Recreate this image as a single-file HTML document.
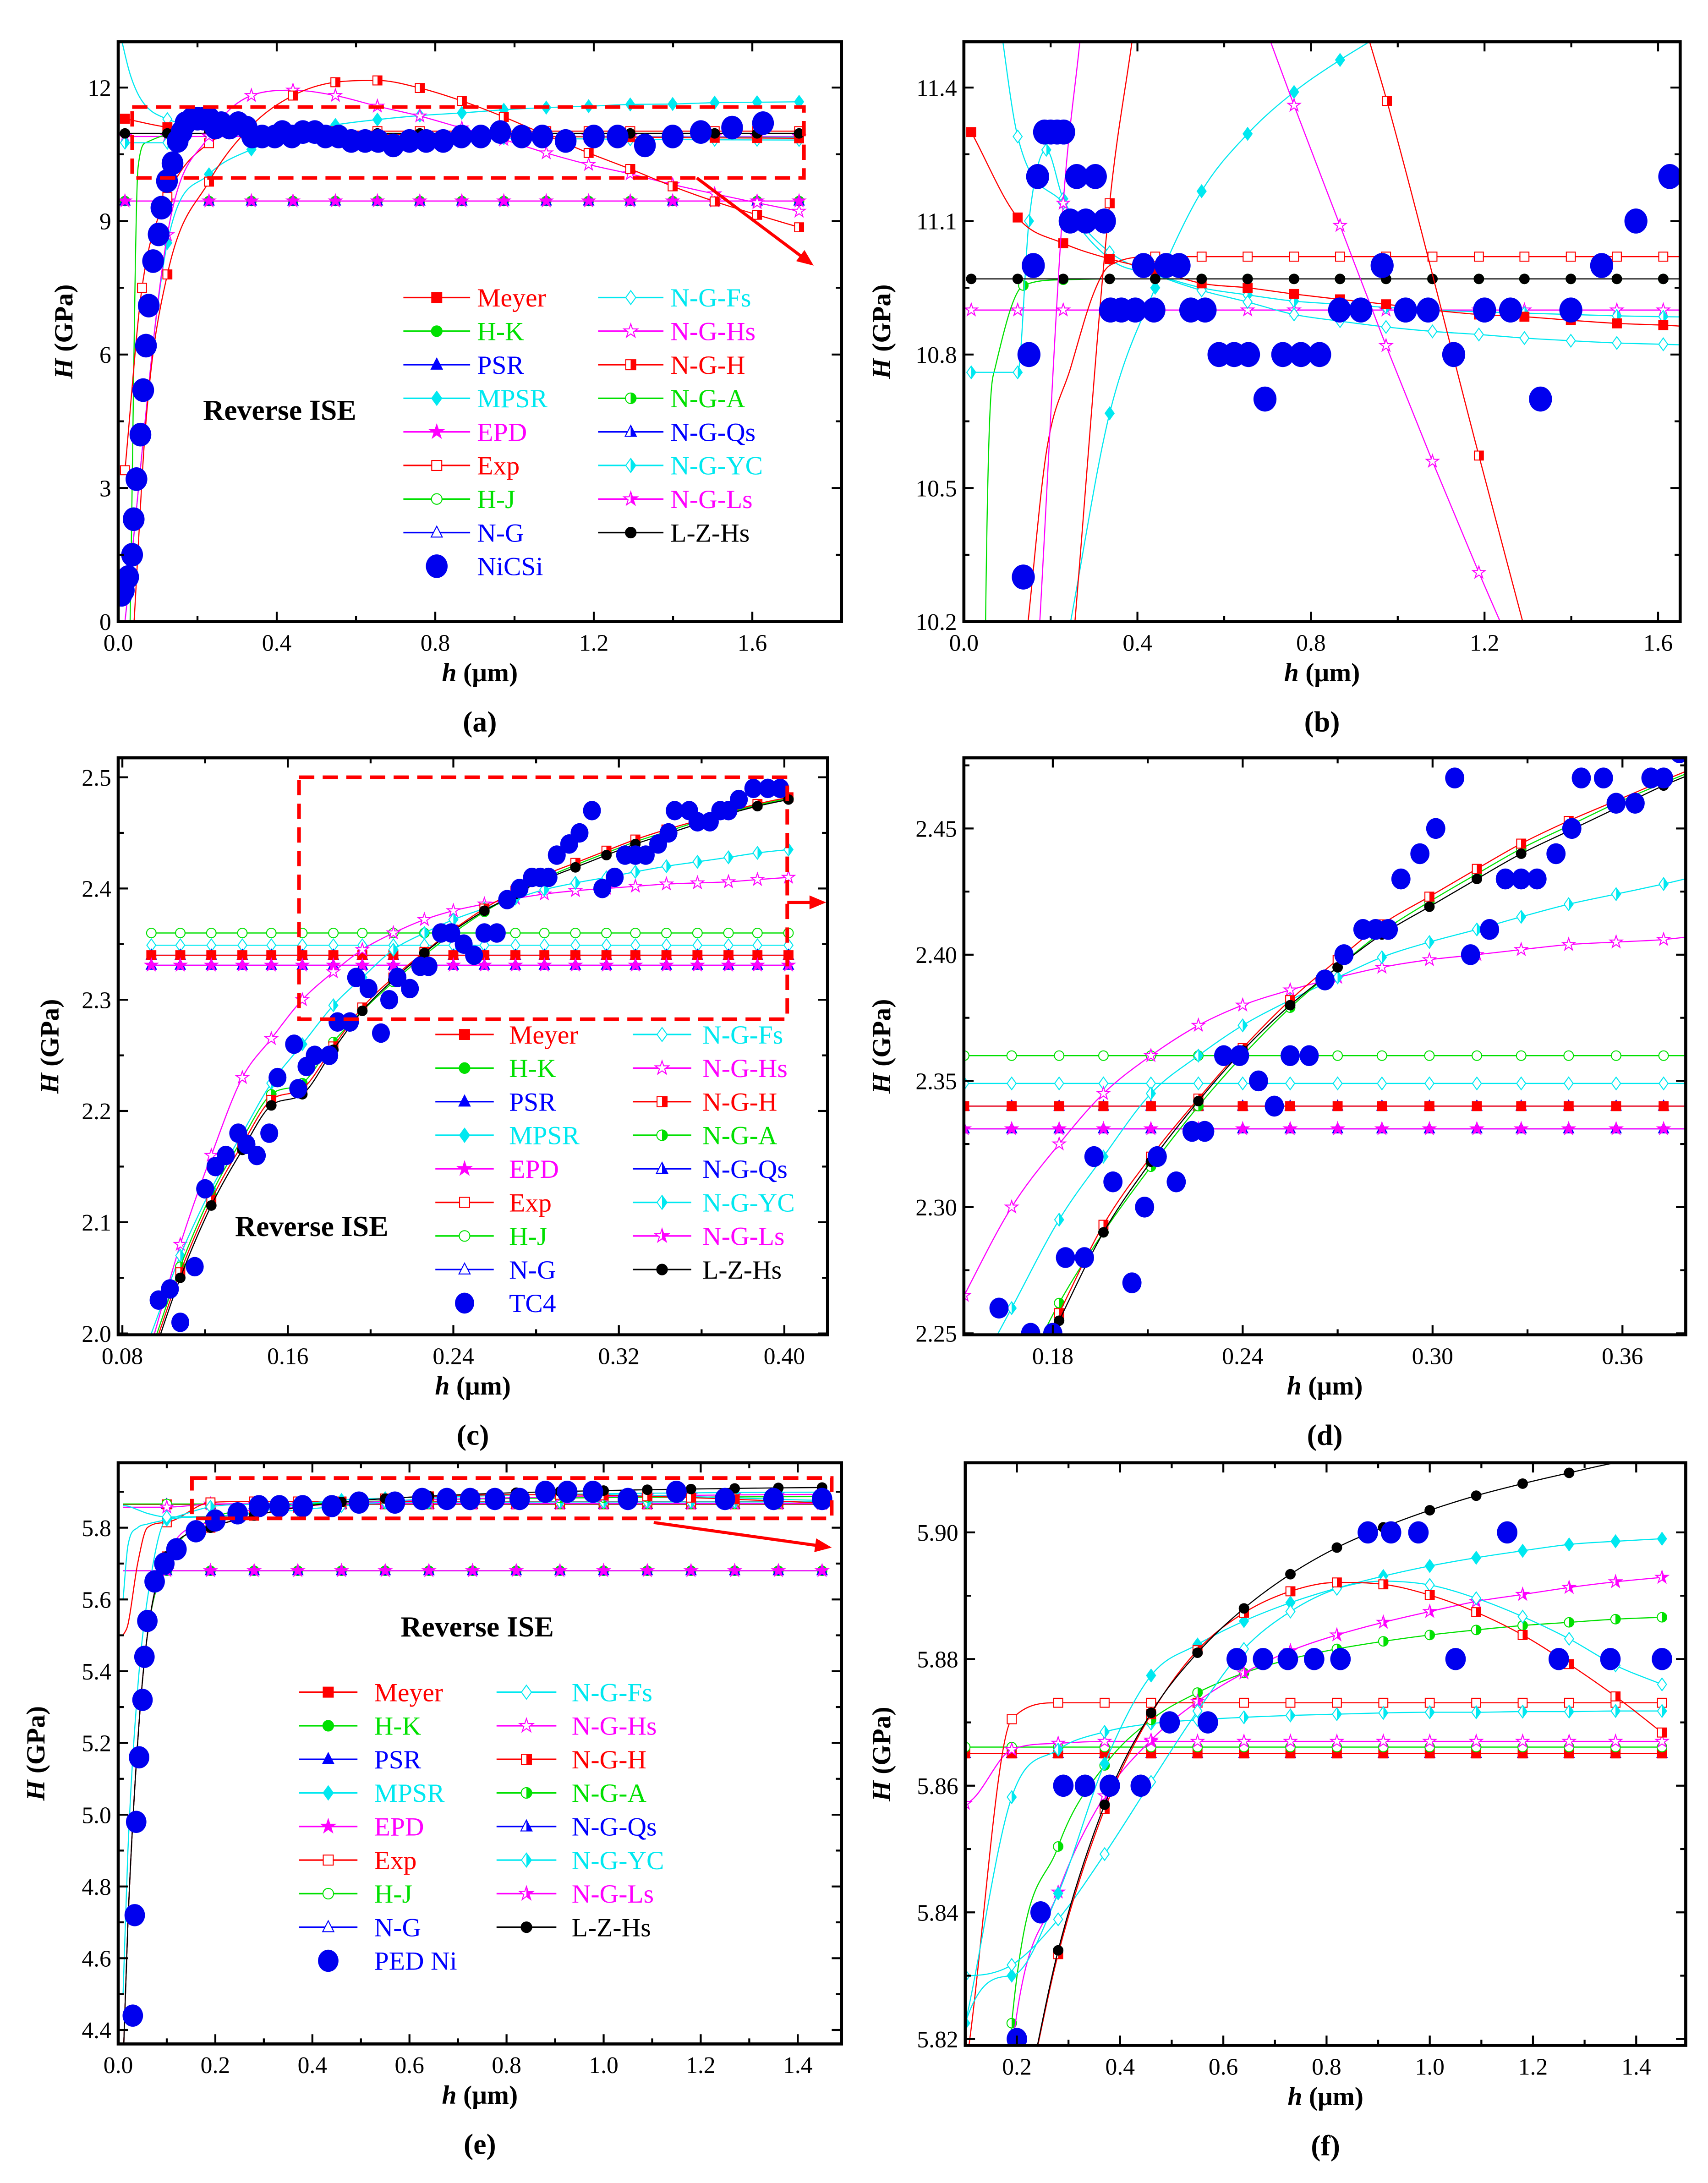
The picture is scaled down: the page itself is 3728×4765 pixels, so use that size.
<!DOCTYPE html>
<html><head><meta charset="utf-8"><title>Reverse ISE hardness fits</title>
<style>
html,body{margin:0;padding:0;background:#fff;width:3728px;height:4765px;overflow:hidden;}
svg{display:block;font-family:"Liberation Serif",serif;}
</style></head>
<body>
<svg id="fig" xmlns="http://www.w3.org/2000/svg" width="3728" height="4765" viewBox="0 0 1228 1570" preserveAspectRatio="none">
<defs>
<linearGradient id="h_red" x1="0" x2="1" y1="0" y2="0"><stop offset="0.5" stop-color="#fff"/><stop offset="0.5" stop-color="#ff0000"/></linearGradient>
<linearGradient id="h_green" x1="0" x2="1" y1="0" y2="0"><stop offset="0.5" stop-color="#fff"/><stop offset="0.5" stop-color="#00e000"/></linearGradient>
<linearGradient id="h_blue" x1="0" x2="1" y1="0" y2="0"><stop offset="0.5" stop-color="#fff"/><stop offset="0.5" stop-color="#0000ff"/></linearGradient>
<linearGradient id="h_cyan" x1="0" x2="1" y1="0" y2="0"><stop offset="0.5" stop-color="#fff"/><stop offset="0.5" stop-color="#00e8f0"/></linearGradient>
<linearGradient id="h_mag" x1="0" x2="1" y1="0" y2="0"><stop offset="0.5" stop-color="#fff"/><stop offset="0.5" stop-color="#ff00ff"/></linearGradient>
</defs>
</svg>
<script>
// ===== tick data =====
const aXTicks=[0,0.4,0.8,1.2,1.6], aXLabels=['0.0','0.4','0.8','1.2','1.6'], aXMinor=[0.2,0.6,1.0,1.4];
const aYTicks=[0,3,6,9,12], aYLabels=['0','3','6','9','12'], aYMinor=[1.5,4.5,7.5,10.5];
const bYTicks=[10.2,10.5,10.8,11.1,11.4], bYLabels=['10.2','10.5','10.8','11.1','11.4'], bYMinor=[10.35,10.65,10.95,11.25];
const cXTicks=[0.08,0.16,0.24,0.32,0.40], cXLabels=['0.08','0.16','0.24','0.32','0.40'], cXMinor=[0.12,0.2,0.28,0.36];
const cYTicks=[2.0,2.1,2.2,2.3,2.4,2.5], cYLabels=['2.0','2.1','2.2','2.3','2.4','2.5'], cYMinor=[2.05,2.15,2.25,2.35,2.45];
const dXTicks=[0.18,0.24,0.30,0.36], dXLabels=['0.18','0.24','0.30','0.36'], dXMinor=[0.21,0.27,0.33];
const dYTicks=[2.25,2.30,2.35,2.40,2.45], dYLabels=['2.25','2.30','2.35','2.40','2.45'], dYMinor=[2.275,2.325,2.375,2.425,2.475];
const eXTicks=[0,0.2,0.4,0.6,0.8,1.0,1.2,1.4], eXLabels=['0.0','0.2','0.4','0.6','0.8','1.0','1.2','1.4'], eXMinor=[0.1,0.3,0.5,0.7,0.9,1.1,1.3];
const eYTicks=[4.4,4.6,4.8,5.0,5.2,5.4,5.6,5.8], eYLabels=['4.4','4.6','4.8','5.0','5.2','5.4','5.6','5.8'], eYMinor=[4.5,4.7,4.9,5.1,5.3,5.5,5.7,5.9];
const fXTicks=[0.2,0.4,0.6,0.8,1.0,1.2,1.4], fXLabels=['0.2','0.4','0.6','0.8','1.0','1.2','1.4'], fXMinor=[0.3,0.5,0.7,0.9,1.1,1.3];
const fYTicks=[5.82,5.84,5.86,5.88,5.90], fYLabels=['5.82','5.84','5.86','5.88','5.90'], fYMinor=[5.83,5.85,5.87,5.89];

// ===== panel (a)/(b) data : NiCSi =====
const aDotX=[0.008,0.014,0.025,0.035,0.039,0.046,0.056,0.063,0.07,0.077,0.088,0.102,0.109,0.123,
0.137,0.15,0.16,0.17,0.186,0.2,0.215,0.23,0.245,0.26,0.281,0.303,0.324,0.338,0.363,0.395,0.414,0.438,0.466,0.496,0.523,0.556,0.588,0.623,0.656,0.694,0.735,0.777,0.82,0.866,0.915,0.964,1.018,1.07,1.129,1.2,1.26,1.329,1.399,1.47,1.549,1.627];
const aDotY=[0.6,0.7,1.0,1.5,2.3,3.2,4.2,5.2,6.2,7.1,8.1,8.7,9.3,9.9,
10.3,10.8,11.0,11.2,11.3,11.3,11.3,11.3,11.1,11.2,11.1,11.2,11.1,10.9,10.9,10.9,11.0,10.9,11.0,11.0,10.9,10.9,10.8,10.8,10.8,10.7,10.8,10.8,10.8,10.9,10.9,11.0,10.9,10.9,10.8,10.9,10.9,10.7,10.9,11.0,11.1,11.2];
const aGrid=[0.017,0.124,0.229,0.336,0.441,0.548,0.654,0.761,0.867,0.973,1.08,1.187,1.292,1.399,1.505,1.612,1.718];
const aFlatLow=[9.45,9.45,9.45,9.45,9.45,9.45,9.45,9.45,9.45,9.45,9.45,9.45,9.45,9.45,9.45,9.45,9.45];
const aLZHs=[10.97,10.97,10.97,10.97,10.97,10.97,10.97,10.97,10.97,10.97,10.97,10.97,10.97,10.97,10.97,10.97,10.97];
const aMagFlat=[10.9,10.9,10.9,10.9,10.9,10.9,10.9,10.9,10.9,10.9,10.9,10.9,10.9,10.9,10.9,10.9,10.9];
const aMeyer=[11.3,11.108,11.05,11.015,10.99,10.96,10.95,10.936,10.924,10.913,10.9,10.89,10.885,10.877,10.87,10.866,10.86];
const aExpX=[0.017,0.06,0.124,0.229,0.336,0.441,0.548,0.654,0.761,0.867,0.973,1.08,1.187,1.292,1.399,1.505,1.612,1.718];
const aExpY=[3.4,7.5,9.54,10.75,11.01,11.02,11.02,11.02,11.02,11.02,11.02,11.02,11.02,11.02,11.02,11.02,11.02,11.02];
const aNGHX=[0.04,0.07,0.124,0.229,0.336,0.441,0.548,0.654,0.761,0.867,0.973,1.08,1.187,1.292,1.399,1.505,1.612,1.718];
const aNGHY=[0,4.5,7.8,9.885,11.14,11.82,12.12,12.16,11.99,11.7,11.34,10.93,10.53,10.17,9.78,9.44,9.14,8.86];
const aNGHs=[0,8.69,10.91,11.82,11.94,11.82,11.58,11.36,11.09,10.83,10.53,10.27,10.06,9.82,9.61,9.41,9.22];
const aMPSR=[0,8.51,10.05,10.61,10.95,11.16,11.28,11.37,11.43,11.5,11.55,11.58,11.62,11.63,11.66,11.67,11.68];
const aNGFsX=[0.005,0.03,0.06,0.124,0.229,0.336,0.441,0.548,0.654,0.761,0.867,0.973,1.08,1.187,1.292,1.399,1.505,1.612,1.718];
const aNGFsY=[13.2,12.3,11.7,11.29,11.14,11.03,10.98,10.944,10.918,10.89,10.875,10.862,10.852,10.845,10.837,10.831,10.826,10.823,10.82];
const aNGYCX=[0.017,0.124,0.15,0.19,0.229,0.336,0.441,0.548,0.654,0.761,0.867,0.973,1.08,1.187,1.292,1.399,1.505,1.612,1.718];
const aNGYCY=[10.76,10.76,11.1,11.26,11.15,11.015,10.98,10.95,10.934,10.92,10.913,10.906,10.9,10.896,10.893,10.89,10.887,10.885,10.884];
const aHJX=[0.03,0.05,0.072,0.137,0.229,0.336,0.441,0.548,0.654,0.761,0.867,0.973,1.08,1.187,1.292,1.399,1.505,1.612,1.718];
const aHJY=[0,10.2,10.77,10.955,10.968,10.97,10.97,10.97,10.97,10.97,10.97,10.97,10.97,10.97,10.97,10.97,10.97,10.97,10.97];
// (b) steep segments
const bExpX=[0.148,0.19,0.246,0.3,0.336,0.441,0.548,0.654,0.761,0.867,0.973,1.08,1.187,1.292,1.399,1.505,1.612,1.718];
const bExpY=[10.2,10.58,10.77,10.94,11.0,11.02,11.02,11.02,11.02,11.02,11.02,11.02,11.02,11.02,11.02,11.02,11.02,11.02];
const bNGH1X=[0.256,0.336,0.387], bNGH1Y=[10.2,11.14,11.5];
const bNGH2X=[0.936,0.975,1.187,1.288], bNGH2Y=[11.5,11.37,10.573,10.2];
const bNGHs1X=[0.175,0.229,0.267], bNGHs1Y=[10.2,11.14,11.5];
const bNGHs2X=[0.708,0.761,0.867,0.973,1.08,1.187,1.236], bNGHs2Y=[11.5,11.36,11.09,10.82,10.56,10.31,10.2];
const bMPSRX=[0.246,0.336,0.441,0.548,0.654,0.761,0.867,0.93], bMPSRY=[10.2,10.668,10.95,11.167,11.296,11.39,11.462,11.5];

// ===== panel (c)/(d) data : TC4 =====
const cDotX=[0.0975,0.103,0.108,0.115,0.12,0.125,0.13,0.136,0.14,0.145,0.151,0.155,0.163,0.165,0.169,0.173,0.18,0.184,0.19,0.193,0.199,0.205,0.209,0.213,0.219,0.224,0.228,0.234,0.239,0.245,0.25,0.255,0.261,0.266,0.272,0.278,0.282,0.286,0.29,0.296,0.301,0.307,0.312,0.318,0.323,0.328,0.333,0.339,0.344,0.347,0.354,0.358,0.364,0.369,0.373,0.378,0.385,0.392,0.398];
const cDotY=[2.03,2.04,2.01,2.06,2.13,2.15,2.16,2.18,2.17,2.16,2.18,2.23,2.26,2.22,2.24,2.25,2.25,2.28,2.28,2.32,2.31,2.27,2.30,2.32,2.31,2.33,2.33,2.36,2.36,2.35,2.34,2.36,2.36,2.39,2.40,2.41,2.41,2.41,2.43,2.44,2.45,2.47,2.40,2.41,2.43,2.43,2.43,2.44,2.45,2.47,2.47,2.46,2.46,2.47,2.47,2.48,2.49,2.49,2.49];
const cdGrid=[0.094,0.108,0.123,0.138,0.152,0.167,0.182,0.196,0.211,0.226,0.240,0.255,0.270,0.284,0.299,0.314,0.328,0.343,0.358,0.373,0.387,0.402];
const cLZHs=[1.975,2.05,2.115,2.165,2.205,2.215,2.255,2.29,2.318,2.342,2.362,2.38,2.395,2.408,2.419,2.43,2.44,2.449,2.458,2.467,2.474,2.48];
const cMeyer=[1.98,2.055,2.12,2.17,2.21,2.22,2.258,2.293,2.32,2.343,2.363,2.382,2.398,2.412,2.423,2.434,2.444,2.453,2.461,2.469,2.476,2.482];
const cHK=[1.985,2.06,2.125,2.175,2.215,2.225,2.262,2.29,2.316,2.34,2.36,2.379,2.395,2.409,2.421,2.432,2.442,2.451,2.46,2.468,2.475,2.481];
const cYC=[2.0,2.07,2.13,2.18,2.225,2.26,2.295,2.32,2.345,2.36,2.372,2.382,2.391,2.399,2.405,2.41,2.415,2.42,2.424,2.428,2.432,2.435];
const cHs=[1.99,2.08,2.16,2.23,2.265,2.3,2.325,2.345,2.36,2.372,2.38,2.386,2.391,2.395,2.398,2.4,2.402,2.404,2.405,2.406,2.408,2.41];
const cFlatHJ=[2.36,2.36,2.36,2.36,2.36,2.36,2.36,2.36,2.36,2.36,2.36,2.36,2.36,2.36,2.36,2.36,2.36,2.36,2.36,2.36,2.36,2.36];
const cFlatFs=[2.349,2.349,2.349,2.349,2.349,2.349,2.349,2.349,2.349,2.349,2.349,2.349,2.349,2.349,2.349,2.349,2.349,2.349,2.349,2.349,2.349,2.349];
const cFlatNG=[2.34,2.34,2.34,2.34,2.34,2.34,2.34,2.34,2.34,2.34,2.34,2.34,2.34,2.34,2.34,2.34,2.34,2.34,2.34,2.34,2.34,2.34];
const cFlatEPD=[2.331,2.331,2.331,2.331,2.331,2.331,2.331,2.331,2.331,2.331,2.331,2.331,2.331,2.331,2.331,2.331,2.331,2.331,2.331,2.331,2.331,2.331];

// ===== panel (e)/(f) data : PED Ni =====
const eDotX=[0.03,0.034,0.037,0.043,0.05,0.054,0.06,0.075,0.095,0.12,0.16,0.2,0.246,0.29,0.332,0.38,0.44,0.496,0.57,0.626,0.677,0.725,0.776,0.827,0.88,0.925,0.978,1.05,1.15,1.25,1.35,1.45];
const eDotY=[4.44,4.72,4.98,5.16,5.32,5.44,5.54,5.65,5.70,5.74,5.79,5.82,5.84,5.86,5.86,5.86,5.86,5.87,5.87,5.88,5.88,5.88,5.88,5.88,5.90,5.90,5.90,5.88,5.90,5.88,5.88,5.88];
const eX=[0.01,0.02,0.04,0.06,0.1,0.19,0.28,0.37,0.46,0.55,0.64,0.73,0.82,0.91,1.0,1.09,1.18,1.27,1.36,1.45];
const eLZHs=[4.3,4.7,5.2,5.5,5.72,5.80,5.834,5.857,5.8715,5.881,5.888,5.8934,5.8976,5.9008,5.9035,5.9058,5.9077,5.9094,5.911,5.912];
const eNGH=[4.3,4.7,5.2,5.5,5.72,5.80,5.8334,5.8563,5.8713,5.8814,5.8873,5.8907,5.8921,5.8918,5.8901,5.8874,5.8838,5.8792,5.8741,5.8684];
const eNGFs=[5.862,5.86,5.85,5.84,5.83,5.8317,5.8389,5.8492,5.8606,5.8718,5.8816,5.8875,5.8911,5.8923,5.8917,5.8896,5.8867,5.8832,5.879,5.876];
const eMPSR=[4.5,4.9,5.35,5.6,5.8225,5.83,5.843,5.8635,5.8774,5.8823,5.886,5.8889,5.8912,5.8931,5.8947,5.896,5.8971,5.8981,5.8986,5.899];
const eNGYC=[5.6,5.75,5.8,5.81,5.8225,5.8582,5.8657,5.8685,5.8698,5.8704,5.8708,5.8711,5.8713,5.8715,5.8716,5.8716,5.8717,5.8717,5.8718,5.8718];
const eNGLs=[4.3,4.7,5.2,5.5,5.72,5.818,5.8432,5.8584,5.8672,5.8733,5.8778,5.8813,5.8838,5.8858,5.8875,5.8891,5.8902,5.8913,5.8922,5.8929];
const eNGA=[4.3,4.7,5.2,5.5,5.7,5.8225,5.8504,5.8632,5.8704,5.8747,5.8778,5.88,5.8816,5.8828,5.8838,5.8846,5.8853,5.8858,5.8863,5.8866];
const eExp=[5.5,5.53,5.7,5.8,5.815,5.8705,5.8731,5.8731,5.8731,5.8731,5.8731,5.8731,5.8731,5.8731,5.8731,5.8731,5.8731,5.8731,5.8731,5.8731];
const eNGHs=[5.857,5.857,5.857,5.857,5.8572,5.8657,5.8667,5.867,5.867,5.867,5.867,5.867,5.867,5.867,5.867,5.867,5.867,5.867,5.867,5.867];
const eHJ=[5.8661,5.8661,5.8661,5.8661,5.8661,5.8661,5.8661,5.8661,5.8661,5.8661,5.8661,5.8661,5.8661,5.8661,5.8661,5.8661,5.8661,5.8661,5.8661,5.8661];
const eNG=[5.8651,5.8651,5.8651,5.8651,5.8651,5.8651,5.8651,5.8651,5.8651,5.8651,5.8651,5.8651,5.8651,5.8651,5.8651,5.8651,5.8651,5.8651,5.8651,5.8651];
const eFlatLow=[5.68,5.68,5.68,5.68,5.68,5.68,5.68,5.68,5.68,5.68,5.68,5.68,5.68,5.68,5.68,5.68,5.68,5.68,5.68,5.68];

// ===== rendering =====
const NS='http://www.w3.org/2000/svg';
const svg=document.getElementById('fig');
const COL={red:'#ff0000',green:'#00e000',blue:'#0000ff',cyan:'#00e8f0',mag:'#ff00ff',black:'#000000'};
function mk(tag,parent){const e=document.createElementNS(NS,tag);parent.appendChild(e);return e;}

const PANELS={
 a:{x0:85,y0:30,x1:605,y1:447,xmin:0,xmax:1.825,ymin:0,ymax:13.03},
 b:{x0:693,y0:30,x1:1208,y1:447,xmin:0,xmax:1.651,ymin:10.2,ymax:11.503},
 c:{x0:85,y0:545,x1:595,y1:960,xmin:0.078,xmax:0.4209,ymin:1.99875,ymax:2.5175},
 d:{x0:693,y0:545,x1:1212,y1:960,xmin:0.1519,xmax:0.380,ymin:2.2494,ymax:2.478},
 e:{x0:85,y0:1052,x1:605,y1:1470,xmin:0,xmax:1.49,ymin:4.361,ymax:5.981},
 f:{x0:694,y0:1052,x1:1212,y1:1471,xmin:0.1,xmax:1.496,ymin:5.819,ymax:5.911}
};
function sx(p,v){return p.x0+(v-p.xmin)/(p.xmax-p.xmin)*(p.x1-p.x0);}
function sy(p,v){return p.y1-(v-p.ymin)/(p.ymax-p.ymin)*(p.y1-p.y0);}

// monotone cubic (Fritsch-Carlson) in pixel space
function smooth(pts){
 const n=pts.length;if(n<2)return '';
 const dx=[],dy=[],m=[];
 for(let i=0;i<n-1;i++){dx.push(pts[i+1][0]-pts[i][0]);dy.push(pts[i+1][1]-pts[i][1]);m.push(dx[i]?dy[i]/dx[i]:0);}
 const t=new Array(n);
 t[0]=m[0];t[n-1]=m[n-2];
 for(let i=1;i<n-1;i++){t[i]=(m[i-1]*m[i]<=0)?0:(m[i-1]+m[i])/2;}
 for(let i=0;i<n-1;i++){
  if(m[i]===0){t[i]=0;t[i+1]=0;continue;}
  const a=t[i]/m[i],b=t[i+1]/m[i],s=a*a+b*b;
  if(s>9){const k=3/Math.sqrt(s);t[i]=k*a*m[i];t[i+1]=k*b*m[i];}
 }
 let d='M'+pts[0][0].toFixed(2)+' '+pts[0][1].toFixed(2);
 for(let i=0;i<n-1;i++){
  const h=dx[i]/3;
  d+=' C'+(pts[i][0]+h).toFixed(2)+' '+(pts[i][1]+t[i]*h).toFixed(2)+' '+(pts[i+1][0]-h).toFixed(2)+' '+(pts[i+1][1]-t[i+1]*h).toFixed(2)+' '+pts[i+1][0].toFixed(2)+' '+pts[i+1][1].toFixed(2);
 }
 return d;
}
// cut a polyline to a band around the plot box; returns contiguous pieces
function trimToBand(pts,p){
 const lo=p.y0-25,hi=p.y1+25,xl=p.x0-25,xr=p.x1+25;
 const inside=q=>q[1]>=lo&&q[1]<=hi&&q[0]>=xl&&q[0]<=xr;
 const cross=(a,b)=>{ // point on segment a->b where it meets band edge (b outside)
  let t=1;
  if(b[1]<lo)t=Math.min(t,(lo-a[1])/(b[1]-a[1]));
  if(b[1]>hi)t=Math.min(t,(hi-a[1])/(b[1]-a[1]));
  if(b[0]<xl)t=Math.min(t,(xl-a[0])/(b[0]-a[0]));
  if(b[0]>xr)t=Math.min(t,(xr-a[0])/(b[0]-a[0]));
  return [a[0]+(b[0]-a[0])*t,a[1]+(b[1]-a[1])*t];
 };
 const pieces=[];let cur=[];
 for(let i=0;i<pts.length;i++){
  const q=pts[i];
  if(inside(q)){
   if(cur.length===0&&i>0)cur.push(cross(q,pts[i-1]));
   cur.push(q);
  }else if(cur.length){
   cur.push(cross(pts[i-1],q));pieces.push(cur);cur=[];
  }
 }
 if(cur.length)pieces.push(cur);
 return pieces.filter(pc=>pc.length>1);
}
function markerEl(parent,shape,cx,cy,s,color,fill){
 let e;
 if(shape==='circ'){e=mk('circle',parent);e.setAttribute('cx',cx);e.setAttribute('cy',cy);e.setAttribute('r',s*0.95);}
 else{
  e=mk('path',parent);let d='';
  if(shape==='sq')d=`M${cx-s*0.9} ${cy-s*0.9}h${s*1.8}v${s*1.8}h${-s*1.8}Z`;
  else if(shape==='tri')d=`M${cx} ${cy-s*1.15}L${cx+s} ${cy+s*0.8}L${cx-s} ${cy+s*0.8}Z`;
  else if(shape==='dia')d=`M${cx} ${cy-s*1.25}L${cx+s*0.9} ${cy}L${cx} ${cy+s*1.25}L${cx-s*0.9} ${cy}Z`;
  else if(shape==='star'){for(let k=0;k<10;k++){const r=k%2?s*0.5:s*1.3;const a=-Math.PI/2+k*Math.PI/5;d+=(k?'L':'M')+(cx+r*Math.cos(a)).toFixed(2)+' '+(cy+r*Math.sin(a)).toFixed(2);}d+='Z';}
  e.setAttribute('d',d);
 }
 const key=Object.keys(COL).find(k=>COL[k]===color);
 e.setAttribute('fill',fill==='f'?color:(fill==='h'?'url(#h_'+key+')':'#fff'));
 e.setAttribute('stroke',color);
 e.setAttribute('stroke-width','0.7');
 return e;
}

function drawSeries(g,p,X,Y,color,shape,fill,name,mkMinX){
 const sg=mk('g',g);
 
 
 const pts=X.map((x,i)=>[sx(p,x),sy(p,Y[i])]);
 const path=mk('path',sg);
 
 
 path.setAttribute('d',trimToBand(pts,p).map(smooth).join(' '));
 path.setAttribute('fill','none');
 path.setAttribute('stroke',color);
 path.setAttribute('stroke-width','0.8');
 const tol=(p.ymax-p.ymin)*0.004;
 const minX=mkMinX||-1;
 X.forEach((x,i)=>{
  const y=Y[i];
  if(x<minX)return;
  if(y<=p.ymin+tol||y>=p.ymax-tol||x<p.xmin||x>p.xmax)return;
  const m=markerEl(sg,shape,sx(p,x),sy(p,y),3.6,color,fill);
  
  
 });
}
function drawDots(g,p,X,Y,r,name){
 const tol=(p.ymax-p.ymin)*0.03;
 X.forEach((x,i)=>{
  const y=Y[i];
  if(y<p.ymin-tol||y>p.ymax+tol||x<p.xmin-(p.xmax-p.xmin)*0.03||x>p.xmax)return;
  const c=mk('ellipse',g);
  
  
  c.setAttribute('cx',sx(p,x));c.setAttribute('cy',sy(p,y));
  c.setAttribute('rx',r*0.92);c.setAttribute('ry',r);
  c.setAttribute('fill','#0000ee');
 });
}
function text(parent,x,y,str,size,opts){
 const t=mk('text',parent);
 t.setAttribute('x',x);t.setAttribute('y',y);
 t.setAttribute('font-size',size);
 t.setAttribute('font-family','Liberation Serif, serif');
 if(opts&&opts.anchor)t.setAttribute('text-anchor',opts.anchor);
 if(opts&&opts.weight)t.setAttribute('font-weight',opts.weight);
 if(opts&&opts.fill)t.setAttribute('fill',opts.fill);
 t.textContent=str;
 return t;
}

function setupPanel(key,xt,xl,xm,yt,yl,ym,ytitleX){
 const p=PANELS[key];
 const g=mk('g',svg);
 
 
 const cp=mk('clipPath',g);cp.setAttribute('id','clip-'+key);
 const cr=mk('rect',cp);cr.setAttribute('x',p.x0);cr.setAttribute('y',p.y0);cr.setAttribute('width',p.x1-p.x0);cr.setAttribute('height',p.y1-p.y0);
 const plot=mk('g',g);plot.setAttribute('clip-path','url(#clip-'+key+')');
 
 
 const tg=mk('g',g);
 
 
 let d='';
 xt.forEach(v=>{const x=sx(p,v);d+=`M${x} ${p.y1}v-7M${x} ${p.y0}v7`;});
 xm.forEach(v=>{if(v<p.xmin||v>p.xmax)return;const x=sx(p,v);d+=`M${x} ${p.y1}v-4M${x} ${p.y0}v4`;});
 yt.forEach(v=>{const y=sy(p,v);d+=`M${p.x0} ${y}h7M${p.x1} ${y}h-7`;});
 ym.forEach(v=>{if(v<p.ymin||v>p.ymax)return;const y=sy(p,v);d+=`M${p.x0} ${y}h4M${p.x1} ${y}h-4`;});
 const tp=mk('path',tg);tp.setAttribute('d',d);tp.setAttribute('stroke','#000');tp.setAttribute('stroke-width','1.4');
 const xg=mk('g',g);
 
 
 xt.forEach((v,i)=>{text(xg,sx(p,v),p.y1+21,xl[i],17,{anchor:'middle'});});
 const yg=mk('g',g);
 
 
 yt.forEach((v,i)=>{text(yg,p.x0-5,sy(p,v)+6,yl[i],17,{anchor:'end'});});
 const xtl=mk('text',g);
 
 
 xtl.setAttribute('x',(p.x0+p.x1)/2);xtl.setAttribute('y',p.y1+43);
 xtl.setAttribute('text-anchor','middle');xtl.setAttribute('font-size','19');xtl.setAttribute('font-weight','bold');
 xtl.setAttribute('font-family','Liberation Serif, serif');
 xtl.innerHTML='<tspan font-style="italic">h</tspan> (μm)';
 const ytl=mk('text',g);
 
 
 const cy=(p.y0+p.y1)/2;
 ytl.setAttribute('transform',`translate(${ytitleX},${cy}) rotate(-90)`);
 ytl.setAttribute('text-anchor','middle');ytl.setAttribute('font-size','19');ytl.setAttribute('font-weight','bold');
 ytl.setAttribute('font-family','Liberation Serif, serif');
 ytl.innerHTML='<tspan font-style="italic">H</tspan> (GPa)';
 const sl=text(g,(p.x0+p.x1)/2,p.y1+79,'('+key+')',21,{anchor:'middle',weight:'bold'});
 
 
 return {g,plot,p};
}
function frame(P,key){
 const p=P.p;
 const r=mk('rect',P.g);
 
 
 r.setAttribute('x',p.x0);r.setAttribute('y',p.y0);r.setAttribute('width',p.x1-p.x0);r.setAttribute('height',p.y1-p.y0);
 r.setAttribute('fill','none');r.setAttribute('stroke','#000');r.setAttribute('stroke-width','2.2');
}
function dashBox(g,x0,y0,x1,y1,name){
 const r=mk('rect',g);
 
 
 r.setAttribute('x',x0);r.setAttribute('y',y0);r.setAttribute('width',x1-x0);r.setAttribute('height',y1-y0);
 r.setAttribute('fill','none');r.setAttribute('stroke','#ff0000');r.setAttribute('stroke-width','2.6');r.setAttribute('stroke-dasharray','11 6');
}
function arrow(g,x0,y0,x1,y1,name){
 const a=mk('g',g);
 
 
 const l=mk('line',a);l.setAttribute('x1',x0);l.setAttribute('y1',y0);
 const ang=Math.atan2(y1-y0,x1-x0);
 l.setAttribute('x2',x1-9*Math.cos(ang));l.setAttribute('y2',y1-9*Math.sin(ang));
 l.setAttribute('stroke','#ff0000');l.setAttribute('stroke-width','2.2');
 const h=mk('path',a);
 const bx=x1-12*Math.cos(ang),by=y1-12*Math.sin(ang);
 const px=-Math.sin(ang)*5,py=Math.cos(ang)*5;
 h.setAttribute('d',`M${x1} ${y1}L${bx+px} ${by+py}L${bx-px} ${by-py}Z`);
 h.setAttribute('fill','#ff0000');
}
const LEG_LEFT=[['Meyer','red','sq','f'],['H-K','green','circ','f'],['PSR','blue','tri','f'],['MPSR','cyan','dia','f'],['EPD','mag','star','f'],['Exp','red','sq','o'],['H-J','green','circ','o'],['N-G','blue','tri','o']];
const LEG_RIGHT=[['N-G-Fs','cyan','dia','o'],['N-G-Hs','mag','star','o'],['N-G-H','red','sq','h'],['N-G-A','green','circ','h'],['N-G-Qs','blue','tri','h'],['N-G-YC','cyan','dia','h'],['N-G-Ls','mag','star','h'],['L-Z-Hs','black','circ','f']];
function legend(g,key,L,dotName,dotR){
 const [lx0,lx1,tx,rx0,rx1,rtx,y0]=L;
 const lg=mk('g',g);
 
 
 const row=(x0,x1,t,yy,ent)=>{
  const eg=mk('g',lg);
  
  
  const c=COL[ent[1]];
  const l=mk('line',eg);l.setAttribute('x1',x0);l.setAttribute('x2',x1);l.setAttribute('y1',yy);l.setAttribute('y2',yy);l.setAttribute('stroke',c);l.setAttribute('stroke-width','1.1');
  markerEl(eg,ent[2],(x0+x1)/2,yy,4,c,ent[3]);
  text(eg,t,yy+6.5,ent[0],19,{fill:c});
 };
 LEG_LEFT.forEach((e,i)=>row(lx0,lx1,tx,y0+i*24.15,e));
 LEG_RIGHT.forEach((e,i)=>row(rx0,rx1,rtx,y0+i*24.15,e));
 const dg=mk('g',lg);
 
 
 const yy=y0+8*24.15;
 const c=mk('ellipse',dg);c.setAttribute('cx',(lx0+lx1)/2);c.setAttribute('cy',yy);c.setAttribute('rx',dotR*0.92);c.setAttribute('ry',dotR);c.setAttribute('fill','#0000ee');
 text(dg,tx,yy+6.5,dotName,19,{fill:'#0000ff'});
}
function note(g,x,y,name){
 const t=text(g,x,y,'Reverse ISE',21,{weight:'bold'});
 
 
}

// ---------- Panel a ----------
{
 const P=setupPanel('a',aXTicks,aXLabels,aXMinor,aYTicks,aYLabels,aYMinor,52);const g=P.plot,p=P.p;
 drawSeries(g,p,aGrid,aFlatLow,COL.green,'circ','f','hk');
 drawSeries(g,p,aGrid,aFlatLow,COL.blue,'tri','f','psr');
 drawSeries(g,p,aGrid,aFlatLow,COL.mag,'star','f','epd');
 drawSeries(g,p,aGrid,aMagFlat,COL.mag,'star','o','n-g-hs-flat');
 drawSeries(g,p,aHJX,aHJY,COL.green,'circ','h','h-j',0.1);
 drawSeries(g,p,aNGYCX,aNGYCY,COL.cyan,'dia','h','n-g-yc');
 drawSeries(g,p,aNGFsX,aNGFsY,COL.cyan,'dia','o','n-g-fs',0.1);
 drawSeries(g,p,aGrid,aMPSR,COL.cyan,'dia','f','mpsr');
 drawSeries(g,p,aGrid,aMeyer,COL.red,'sq','f','meyer');
 drawSeries(g,p,aExpX,aExpY,COL.red,'sq','o','exp');
 drawSeries(g,p,aGrid,aLZHs,COL.black,'circ','f','l-z-hs');
 drawSeries(g,p,aGrid,aNGHs,COL.mag,'star','o','n-g-hs');
 drawSeries(g,p,aNGHX,aNGHY,COL.red,'sq','h','n-g-h',0.1);
 drawDots(g,p,aDotX,aDotY,8.5,'nicsi');
 frame(P,'a');
 dashBox(P.g,95,77,578,128,'zoom-box-a');
 arrow(P.g,501,128,585,191,'zoom-arrow-a');
 note(P.g,146,302,'reverse-ise-label-a');
 legend(P.g,'a',[290,338,343,430,477,482,214],'NiCSi',8.5);
}
// ---------- Panel b ----------
{
 const P=setupPanel('b',aXTicks,aXLabels,aXMinor,bYTicks,bYLabels,bYMinor,640);const g=P.plot,p=P.p;
 drawSeries(g,p,aGrid,aMagFlat,COL.mag,'star','o','n-g-hs-flat');
 drawSeries(g,p,aHJX,aHJY,COL.green,'circ','h','h-j',0.1);
 drawSeries(g,p,aNGYCX,aNGYCY,COL.cyan,'dia','h','n-g-yc');
 drawSeries(g,p,aNGFsX,aNGFsY,COL.cyan,'dia','o','n-g-fs',0.1);
 drawSeries(g,p,bMPSRX,bMPSRY,COL.cyan,'dia','f','mpsr');
 drawSeries(g,p,aGrid,aMeyer,COL.red,'sq','f','meyer');
 drawSeries(g,p,bExpX,bExpY,COL.red,'sq','o','exp',0.4);
 drawSeries(g,p,aGrid,aLZHs,COL.black,'circ','f','l-z-hs');
 drawSeries(g,p,bNGHs1X,bNGHs1Y,COL.mag,'star','o','n-g-hs-rise');
 drawSeries(g,p,bNGHs2X,bNGHs2Y,COL.mag,'star','o','n-g-hs-fall');
 drawSeries(g,p,bNGH1X,bNGH1Y,COL.red,'sq','h','n-g-h-rise');
 drawSeries(g,p,bNGH2X,bNGH2Y,COL.red,'sq','h','n-g-h-fall');
 drawDots(g,p,aDotX,aDotY,9,'nicsi');
 frame(P,'b');
}
// ---------- Panel c/d ----------
function drawCD(g,p){
 drawSeries(g,p,cdGrid,cFlatHJ,COL.green,'circ','o','h-j');
 drawSeries(g,p,cdGrid,cFlatFs,COL.cyan,'dia','o','n-g-fs');
 drawSeries(g,p,cdGrid,cFlatNG,COL.blue,'tri','o','n-g');
 drawSeries(g,p,cdGrid,cFlatNG,COL.red,'sq','f','meyer-flat');
 drawSeries(g,p,cdGrid,cFlatEPD,COL.blue,'tri','f','psr');
 drawSeries(g,p,cdGrid,cFlatEPD,COL.mag,'star','f','epd');
 drawSeries(g,p,cdGrid,cHs,COL.mag,'star','o','n-g-hs');
 drawSeries(g,p,cdGrid,cYC,COL.cyan,'dia','h','n-g-yc');
 drawSeries(g,p,cdGrid,cHK,COL.green,'circ','h','n-g-a');
 drawSeries(g,p,cdGrid,cMeyer,COL.red,'sq','h','n-g-h');
 drawSeries(g,p,cdGrid,cLZHs,COL.black,'circ','f','l-z-hs');
}
{
 const P=setupPanel('c',cXTicks,cXLabels,cXMinor,cYTicks,cYLabels,cYMinor,42);const g=P.plot,p=P.p;
 drawCD(g,p);
 drawDots(g,p,cDotX,cDotY,7,'tc4');
 frame(P,'c');
 dashBox(P.g,215,559,566,733,'zoom-box-c');
 arrow(P.g,566,649,594,649,'zoom-arrow-c');
 note(P.g,169,889,'reverse-ise-label-c');
 legend(P.g,'c',[313,355,366,455,497,505,744],'TC4',7.5);
}
{
 const P=setupPanel('d',dXTicks,dXLabels,dXMinor,dYTicks,dYLabels,dYMinor,640);const g=P.plot,p=P.p;
 drawCD(g,p);
 drawDots(g,p,cDotX,cDotY,7.5,'tc4');
 frame(P,'d');
}
// ---------- Panel e/f ----------
function drawEF(g,p){
 drawSeries(g,p,eX,eFlatLow,COL.green,'circ','f','h-k',0.09);
 drawSeries(g,p,eX,eFlatLow,COL.blue,'tri','f','psr',0.09);
 drawSeries(g,p,eX,eFlatLow,COL.mag,'star','f','epd',0.09);
 drawSeries(g,p,eX,eNG,COL.blue,'tri','o','n-g',0.09);
 drawSeries(g,p,eX,eNG,COL.red,'sq','f','meyer',0.09);
 drawSeries(g,p,eX,eHJ,COL.green,'circ','o','h-j',0.09);
 drawSeries(g,p,eX,eNGHs,COL.mag,'star','o','n-g-hs',0.09);
 drawSeries(g,p,eX,eExp,COL.red,'sq','o','exp',0.09);
 drawSeries(g,p,eX,eNGYC,COL.cyan,'dia','h','n-g-yc',0.09);
 drawSeries(g,p,eX,eNGA,COL.green,'circ','h','n-g-a',0.09);
 drawSeries(g,p,eX,eNGLs,COL.mag,'star','h','n-g-ls',0.09);
 drawSeries(g,p,eX,eMPSR,COL.cyan,'dia','f','mpsr',0.09);
 drawSeries(g,p,eX,eNGFs,COL.cyan,'dia','o','n-g-fs',0.09);
 drawSeries(g,p,eX,eNGH,COL.red,'sq','h','n-g-h',0.09);
 drawSeries(g,p,eX,eLZHs,COL.black,'circ','f','l-z-hs',0.09);
}
{
 const P=setupPanel('e',eXTicks,eXLabels,eXMinor,eYTicks,eYLabels,eYMinor,32);const g=P.plot,p=P.p;
 drawEF(g,p);
 drawDots(g,p,eDotX,eDotY,8,'ped-ni');
 frame(P,'e');
 dashBox(P.g,138,1063,598,1092,'zoom-box-e');
 arrow(P.g,470,1095,598,1113,'zoom-arrow-e');
 note(P.g,288,1177,'reverse-ise-label-e');
 legend(P.g,'e',[215,257,269,357,400,411,1217],'PED Ni',8);
}
{
 const P=setupPanel('f',fXTicks,fXLabels,fXMinor,fYTicks,fYLabels,fYMinor,640);const g=P.plot,p=P.p;
 drawEF(g,p);
 drawDots(g,p,eDotX,eDotY,8,'ped-ni');
 frame(P,'f');
}
</script>
</body></html>
